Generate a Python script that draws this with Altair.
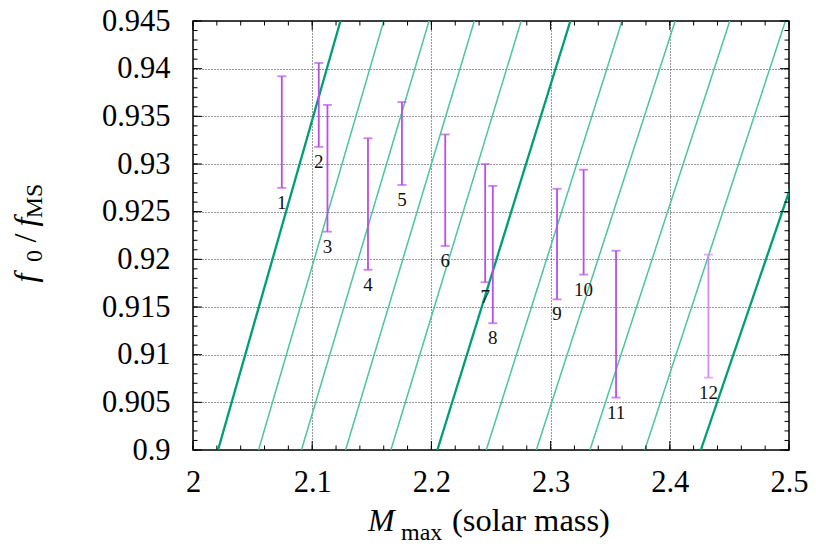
import altair as alt
import pandas as pd
import numpy as np

# green guide lines: x where each line meets f0/fMS = 0.9 (bottom) and 0.945 (top)
line_x_bottom = [2.021, 2.055, 2.091, 2.128, 2.166, 2.205, 2.246, 2.288, 2.333, 2.379, 2.426]
line_x_top = [2.1237, 2.160, 2.198, 2.236, 2.2753, 2.3166, 2.3599, 2.4045, 2.4503, 2.497, 2.549]
line_heavy = [1, 0, 0, 0, 0, 1, 0, 0, 0, 0, 1]
line_y_bottom = 0.9
line_y_top = 0.945

# error bars
bar_id = [1, 2, 3, 4, 5, 6, 7, 8, 9, 10, 11, 12]
bar_x = [2.0745, 2.1055, 2.1128, 2.1468, 2.1753, 2.2116, 2.2451, 2.2515, 2.3054, 2.3277, 2.3549, 2.4324]
bar_hi = [0.9392, 0.9406, 0.9362, 0.9327, 0.9365, 0.9331, 0.9300, 0.9277, 0.9274, 0.9294, 0.9209, 0.9205]
bar_lo = [0.9275, 0.9318, 0.9229, 0.9189, 0.9278, 0.9214, 0.9176, 0.9133, 0.9158, 0.9184, 0.9055, 0.9076]

# axis ticks
x_ticks = [2.0, 2.1, 2.2, 2.3, 2.4, 2.5]
y_ticks = [0.9, 0.905, 0.91, 0.915, 0.92, 0.925, 0.93, 0.935, 0.94, 0.945]
x_minor = [round(v, 3) for v in np.arange(2.0, 2.5001, 0.02)]
y_minor = [round(v, 4) for v in np.arange(0.9, 0.94501, 0.001)]

W, H = 596, 429
FONT = "Liberation Serif"

lines_df = pd.DataFrame({
    "xb": line_x_bottom, "xt": line_x_top, "heavy": line_heavy,
    "yb": [line_y_bottom] * len(line_x_bottom), "yt": [line_y_top] * len(line_x_bottom),
})
bars_df = pd.DataFrame({"id": bar_id, "x": bar_x, "hi": bar_hi, "lo": bar_lo})

xs = alt.Scale(domain=[2.0, 2.5], nice=False, zero=False)
ys = alt.Scale(domain=[0.9, 0.945], nice=False, zero=False)
xaxis = alt.Axis(values=x_ticks, format="~g", title=None, grid=True, ticks=False, domain=False,
                 labelFont=FONT, labelFontSize=30.5, labelColor="black", labelPadding=17,
                 gridColor="#333", gridDash=[1, 2], gridWidth=1, labelFlush=False)
yaxis = alt.Axis(values=y_ticks, format="~g", title=None, grid=True, ticks=False, domain=False,
                 labelFont=FONT, labelFontSize=30.5, labelColor="black", labelPadding=23,
                 gridColor="#333", gridDash=[1, 2], gridWidth=1, labelFlush=False)


def X(f):
    return alt.X(f"{f}:Q", scale=xs, axis=xaxis)


def Y(f):
    return alt.Y(f"{f}:Q", scale=ys, axis=yaxis)


base_lines = alt.Chart(lines_df)
light = base_lines.transform_filter("datum.heavy == 0").mark_rule(
    clip=True, color="#4cc49f", strokeWidth=1.5
).encode(x=X("xb"), x2="xt", y=Y("yb"), y2="yt")
heavy = base_lines.transform_filter("datum.heavy == 1").mark_rule(
    clip=True, color="#009e73", strokeWidth=2.3
).encode(x=X("xb"), x2="xt", y=Y("yb"), y2="yt")

BAR_COLOR = "#b94ee8"
bar_col = alt.condition("datum.id == 12", alt.value("#cf8ef0"), alt.value(BAR_COLOR))
bars = alt.Chart(bars_df)
err = bars.mark_rule(strokeWidth=1.8).encode(x=X("x"), y=Y("lo"), y2="hi", color=bar_col)
cap_hi = bars.mark_tick(orient="horizontal", size=9, thickness=1.8).encode(
    x=X("x"), y=Y("hi"), color=bar_col)
cap_lo = bars.mark_tick(orient="horizontal", size=9, thickness=1.8).encode(
    x=X("x"), y=Y("lo"), color=bar_col)
nums = bars.mark_text(font=FONT, fontSize=19, color="#111", dy=15, baseline="middle").encode(
    x=X("x"), y=Y("lo"), text="id:N")


def yticks(vals, length):
    d = alt.Chart(pd.DataFrame({"v": vals}))
    left = d.mark_rule(color="black", strokeWidth=1).encode(x=alt.value(0), x2=alt.value(length), y=Y("v"))
    right = d.mark_rule(color="black", strokeWidth=1).encode(x=alt.value(W), x2=alt.value(W - length), y=Y("v"))
    return [left, right]


def xticks(vals, length):
    d = alt.Chart(pd.DataFrame({"v": vals}))
    bot = d.mark_rule(color="black", strokeWidth=1).encode(y=alt.value(H), y2=alt.value(H - length), x=X("v"))
    top = d.mark_rule(color="black", strokeWidth=1).encode(y=alt.value(0), y2=alt.value(length), x=X("v"))
    return [bot, top]


def txt(s, x, y, size, italic=False, angle=0, align="left"):
    kw = dict(text=s, font=FONT, fontSize=size, color="black", align=align, baseline="alphabetic")
    if italic:
        kw["fontStyle"] = "italic"
    if angle:
        kw["angle"] = angle
    return alt.Chart(alt.Data(values=[{"a": 1}])).mark_text(**kw).encode(x=alt.value(x), y=alt.value(y))


titles = [
    txt("M", 175, 510, 32, italic=True),
    txt("max", 208, 519, 24),
    txt("(solar mass)", 259, 510, 32.5),
    txt("f", -157, 257, 32, italic=True, angle=270, align="center"),
    txt("0", -151, 235, 24, angle=270, align="center"),
    txt("/", -157, 217, 32, angle=270, align="center"),
    txt("f", -157, 201, 32, italic=True, angle=270, align="center"),
    txt("MS", -151, 180, 24, angle=270, align="center"),
]

layers = [light, heavy, err, cap_hi, cap_lo, nums]
layers += yticks(y_minor, 4.5) + yticks(y_ticks, 9) + xticks(x_minor, 4.5) + xticks(x_ticks, 9)
layers += titles

chart = alt.layer(*layers).properties(
    width=W, height=H,
    padding={"left": 185, "top": 13, "right": 19, "bottom": 95},
    autosize=alt.AutoSizeParams(type="none"),
).configure_view(stroke="black", strokeWidth=1.5)

chart.save("out.html", embed_options={"renderer": "svg", "actions": False})
